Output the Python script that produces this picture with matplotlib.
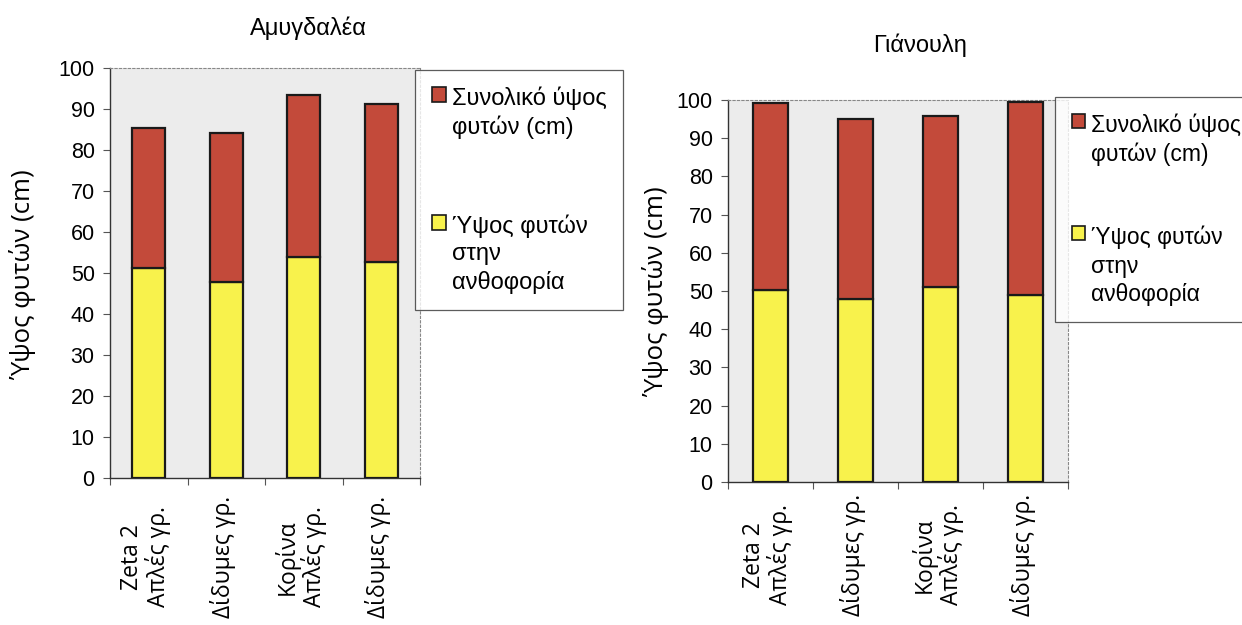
import matplotlib
matplotlib.use("Agg")
import matplotlib.pyplot as plt
import numpy as np
from matplotlib.patches import Patch

categories = ["Zeta 2\nΑπλές γρ.", "Δίδυμες γρ.", "Κορίνα\nΑπλές γρ.", "Δίδυμες γρ."]

# Αμυγδαλέα
amyg_flowering = [51.3, 47.9, 53.8, 52.8]
amyg_total = [85.3, 84.1, 93.4, 91.2]

# Γιάνουλη
gian_flowering = [50.3, 47.9, 51.0, 49.0]
gian_total = [99.2, 95.0, 95.8, 99.5]

titles = ["Αμυγδαλέα", "Γιάνουλη"]
legend_total = "Συνολικό ύψος\nφυτών (cm)"
legend_flower = "Ύψος φυτών\nστην\nανθοφορία"
ylabel = "Ύψος φυτών (cm)"

RED = "#c34a3a"
YELLOW = "#f8f24c"
BG = "#ececec"
SANS = ["Liberation Sans", "DejaVu Sans"]
ROUND = ["Open Sans", "DejaVu Sans"]

W, H = 1242, 625
fig = plt.figure(figsize=(W / 100, H / 100), dpi=100)
fig.patch.set_facecolor("white")


def px_axes(x0, y0, x1, y1):
    return fig.add_axes([x0 / W, 1 - y1 / H, (x1 - x0) / W, (y1 - y0) / H])


ax1 = px_axes(110, 68, 420, 478)
ax2 = px_axes(728, 100, 1068, 482)

# axes, values, title centre, y-label centre, legend corner, label offset,
# legend row spacing, legend padding, legend font size
panels = [
    (ax1, amyg_flowering, amyg_total, titles[0], (308, 28), (23, 275), (415, 70), 79, 3.2, 0.7, 17),
    (ax2, gian_flowering, gian_total, titles[1], (920, 45), (656, 292), (1055, 97), 73, 2.6, 0.72, 16.5),
]

for ax, flow, tot, title, tpos, ypos, lpos, loff, lspace, lpad, lsize in panels:
    x = np.arange(len(categories))
    flow = np.array(flow)
    tot = np.array(tot)
    ax.set_facecolor(BG)
    ax.bar(x, flow, width=0.42, color=YELLOW, edgecolor="#1a1a1a", linewidth=1.6, zorder=3)
    ax.bar(x, tot - flow, bottom=flow, width=0.42, color=RED, edgecolor="#1a1a1a",
           linewidth=1.6, zorder=3)
    ax.set_xlim(-0.5, len(categories) - 0.5)
    ax.set_ylim(0, 100)
    ax.set_yticks(np.arange(0, 101, 10))
    ax.set_yticklabels([str(v) for v in range(0, 101, 10)], fontsize=15.5, family=SANS)
    ax.tick_params(axis="y", direction="out", length=5, width=0.8, color="#555555", pad=6)
    ax.set_xticks(np.arange(-0.5, len(categories), 1.0))
    ax.set_xticklabels([""] * (len(categories) + 1))
    ax.tick_params(axis="x", direction="out", length=5, width=0.8, color="#555555")
    for spine in ("top", "right"):
        ax.spines[spine].set_linestyle((0, (2, 2)))
        ax.spines[spine].set_color("#888888")
        ax.spines[spine].set_linewidth(0.8)
    for spine in ("left", "bottom"):
        ax.spines[spine].set_color("#333333")
        ax.spines[spine].set_linewidth(1.0)

    # category labels, rotated and centred below each bar
    for xi, lab in zip(x, categories):
        ax.annotate(lab, xy=(xi, 0), xycoords=("data", "axes fraction"),
                    xytext=(-3, -loff), textcoords="offset pixels",
                    rotation=90, ha="center", va="center", multialignment="center",
                    fontsize=16.5, family=ROUND, linespacing=1.05)

    fig.text(tpos[0] / W, 1 - tpos[1] / H, title, ha="center", va="center",
             fontsize=17, family=SANS)
    fig.text(ypos[0] / W, 1 - ypos[1] / H, ylabel, ha="center", va="center",
             rotation=90, fontsize=18.5, family=ROUND)

    handles = [Patch(facecolor=RED, edgecolor="#1a1a1a", linewidth=1.2),
               Patch(facecolor=YELLOW, edgecolor="#1a1a1a", linewidth=1.2)]
    leg = fig.legend(handles, [legend_total, legend_flower],
                     loc="upper left", bbox_to_anchor=(lpos[0] / W, 1 - lpos[1] / H),
                     frameon=True, fancybox=False, edgecolor="#333333",
                     prop={"family": SANS, "size": lsize},
                     handlelength=0.6, handleheight=0.6, handletextpad=0.25,
                     labelspacing=lspace, borderpad=lpad, borderaxespad=0.0)
    leg.get_frame().set_linewidth(0.9)
    for t in leg.get_texts():
        t.set_linespacing(1.3)
    # put each swatch level with the first line of its label
    for col in leg._legend_handle_box.get_children():
        for row in col.get_children():
            row.align = "top"

fig.savefig("out.png", dpi=100)
